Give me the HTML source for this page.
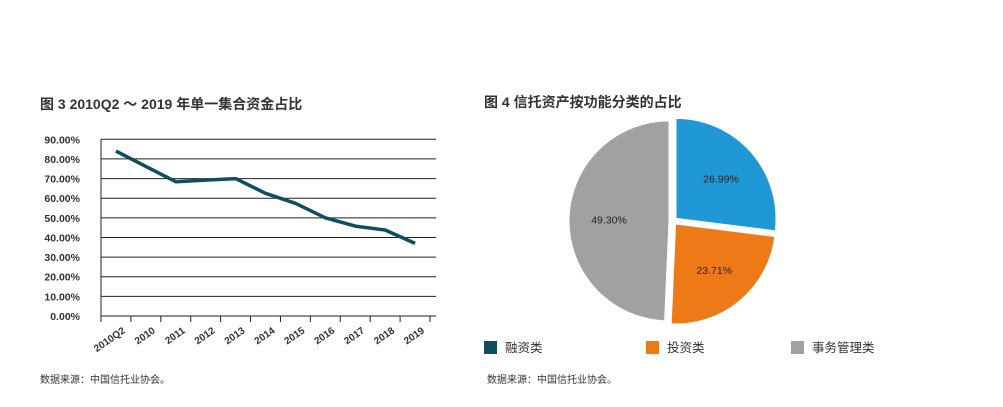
<!DOCTYPE html>
<html><head><meta charset="utf-8"><style>
body{margin:0;width:1003px;height:402px;background:#fff;overflow:hidden;font-family:"Liberation Sans","Noto Sans CJK SC",sans-serif;}
svg text{font-family:"Liberation Sans","Noto Sans CJK SC",sans-serif;}
</style></head><body>
<svg width="1003" height="402">
<text x="40" y="109" font-size="14" font-weight="bold" fill="#333">图 3  2010Q2 ～ 2019 年单一集合资金占比</text>
<g id="lc"></g>
<text x="40" y="383" font-size="10" fill="#333">数据来源：中国信托业协会。</text>
<text x="484" y="107" font-size="14" font-weight="bold" fill="#333">图 4  信托资产按功能分类的占比</text>
<g id="pc"></g>
<g>
<rect x="484" y="341" width="13" height="13" fill="#0f4f5c"/>
<text x="505" y="352" font-size="12.5" fill="#333">融资类</text>
<rect x="646" y="341" width="13" height="13" fill="#ee7a17"/>
<text x="667" y="352" font-size="12.5" fill="#333">投资类</text>
<rect x="791" y="341" width="13" height="13" fill="#a0a1a1"/>
<text x="812" y="352" font-size="12.5" fill="#333">事务管理类</text>
</g>
<text x="487" y="383" font-size="10" fill="#333">数据来源：中国信托业协会。</text>
</svg>
<script>
const categories=["2010Q2","2010","2011","2012","2013","2014","2015","2016","2017","2018","2019"];
const shareValues=[84,76.2,68.4,69.2,70,62.5,57.4,50,45.8,43.8,37];
const yTicks=[0,10,20,30,40,50,60,70,80,90];
const pieLabels=["融资类","投资类","事务管理类"];
const pieValues=[26.99,23.71,49.30];
const pieColors=["#1f98d5","#ee7a17","#a0a1a1"];

const NS="http://www.w3.org/2000/svg";
function mk(tag,attrs,parent){const e=document.createElementNS(NS,tag);for(const k in attrs)e.setAttribute(k,attrs[k]);parent.appendChild(e);return e;}
const lc=document.getElementById('lc');
const x0=101,x1=430,y0=316,yTop=139.3,yMax=90;
const cw=(x1-x0)/categories.length;
const ys=v=>y0-(v/yMax)*(y0-yTop);
const xs=i=>x0+cw*(i+0.5);
yTicks.forEach(t=>{
  const l=mk('line',{x1:x0,x2:436,y1:ys(t),y2:ys(t),stroke:'#222','stroke-width':1},lc);
  
  
  const tx=mk('text',{x:80,y:ys(t)+4,'font-size':10.5,'font-weight':'bold','text-anchor':'end',fill:'#333'},lc);
  tx.textContent=t.toFixed(2)+'%';
  
  
});
const ax=mk('line',{x1:x0,x2:x0,y1:yTop,y2:y0+6,stroke:'#222','stroke-width':1},lc);


for(let i=0;i<=categories.length;i++){
  const tk=mk('line',{x1:x0+cw*i,x2:x0+cw*i,y1:y0,y2:y0+6,stroke:'#222'},lc);
  
  
}
categories.forEach((c,i)=>{
  const px=xs(i)+10,py=y0+16;
  const t=mk('text',{x:px,y:py,'font-size':10,'font-weight':'bold','text-anchor':'end',fill:'#333',transform:`rotate(-35 ${px} ${py})`},lc);
  t.textContent=c;
  
  
});
const pl=mk('polyline',{points:shareValues.map((v,i)=>xs(i)+','+ys(v)).join(' '),fill:'none',stroke:'#0f4f5c','stroke-width':3.5,'stroke-linejoin':'round'},lc);



const pc=document.getElementById('pc');
const cx=673,cy=221,R=100,ex=4;
const total=pieValues.reduce((a,b)=>a+b,0);
let a=0;
pieValues.forEach((v,i)=>{
  const sweep=v/total*2*Math.PI,mid=a+sweep/2;
  const ox=cx+ex*Math.sin(mid),oy=cy-ex*Math.cos(mid);
  const p1=[ox+R*Math.sin(a),oy-R*Math.cos(a)],p2=[ox+R*Math.sin(a+sweep),oy-R*Math.cos(a+sweep)];
  const s=mk('path',{d:`M${ox},${oy}L${p1[0]},${p1[1]}A${R},${R} 0 ${sweep>Math.PI?1:0} 1 ${p2[0]},${p2[1]}Z`,fill:pieColors[i],stroke:'#fff','stroke-width':1},pc);
  
  
  const lr=R*0.6;
  const t=mk('text',{x:ox+lr*Math.sin(mid),y:oy-lr*Math.cos(mid)+4,'font-size':10.5,'text-anchor':'middle',fill:'#222'},pc);
  t.textContent=v.toFixed(2)+'%';
  
  
  a+=sweep;
});
</script>
</body></html>
